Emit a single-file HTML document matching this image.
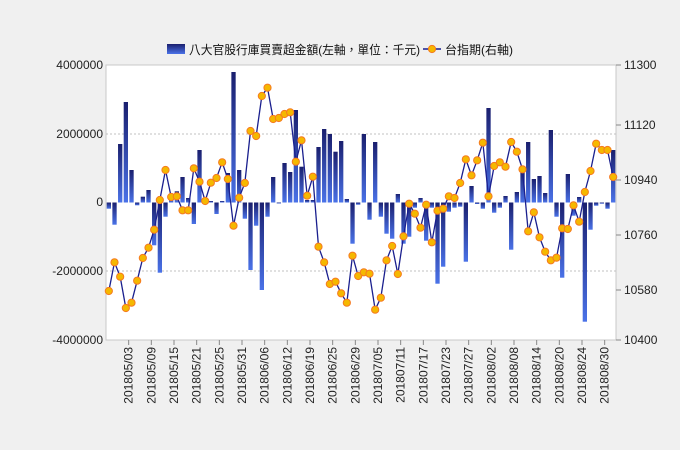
<!DOCTYPE html>
<html><head><meta charset="utf-8"><style>
body{margin:0;background:#f0f0f0;}
svg{display:block;font-family:"Liberation Sans","Noto Sans CJK TC",sans-serif;}
</style></head><body>
<svg id="s" width="680" height="450" viewBox="0 0 680 450">
<defs>
<linearGradient id="gp" x1="0" y1="0" x2="0" y2="1"><stop offset="0" stop-color="#1a1f6e"/><stop offset="1" stop-color="#4a72e8"/></linearGradient>
<linearGradient id="gl" x1="0" y1="0" x2="0" y2="1"><stop offset="0" stop-color="#1a1f6e"/><stop offset="1" stop-color="#4a72e8"/></linearGradient>
</defs>
<rect x="0" y="0" width="680" height="450" fill="#f0f0f0"/>
<rect x="106" y="65" width="510" height="275" fill="#fff" stroke="#c8c8c8"/>
<line x1="106" x2="616" y1="134" y2="134" stroke="#c0c0c0" stroke-dasharray="2,2"/>
<line x1="106" x2="616" y1="271" y2="271" stroke="#c0c0c0" stroke-dasharray="2,2"/>
<g id="bars"></g>
<g id="line"></g>
<g font-size="12" fill="#222" text-anchor="end">
<text x="103" y="69">4000000</text><text x="103" y="138">2000000</text><text x="103" y="206">0</text><text x="103" y="275">-2000000</text><text x="103" y="344">-4000000</text>
</g>
<g font-size="12" fill="#222">
<text x="624" y="69">11300</text><text x="624" y="129">11120</text><text x="624" y="184">10940</text><text x="624" y="239">10760</text><text x="624" y="294">10580</text><text x="624" y="344">10400</text>
</g>
<g stroke="#888"><line x1="616" x2="621" y1="65" y2="65"/><line x1="616" x2="621" y1="125" y2="125"/><line x1="616" x2="621" y1="180" y2="180"/><line x1="616" x2="621" y1="235" y2="235"/><line x1="616" x2="621" y1="290" y2="290"/><line x1="616" x2="621" y1="340" y2="340"/></g>
<g id="xl" font-size="12" fill="#222"></g>
<rect x="167" y="44" width="18" height="10" fill="url(#gp)"/>
<text x="189" y="54" font-size="12" fill="#111" textLength="231" lengthAdjust="spacingAndGlyphs">八大官股行庫買賣超金額(左軸，單位：千元)</text>
<line x1="423" x2="441" y1="49" y2="49" stroke="#1a1f8e" stroke-width="1.5"/>
<circle cx="432" cy="49" r="3.6" fill="#f5b800" stroke="#f57a20"/>
<text x="445" y="54" font-size="12" fill="#111">台指期(右軸)</text>
</svg>
<script>
var B=[208.7,224.7,144,102,170,205.3,196.7,190,245.3,272.7,216.7,196.7,191.3,177,198,224,150,201,201,214,201,173,72,170,218.7,270,225.7,290,216.7,177,203,163,172,110,166.7,200,200,147,129,134,151.7,141,199,243.7,204.7,134,219.7,142,216.7,233.7,238.7,194,243.7,236.7,207.7,198,240.7,207.7,283.7,266.7,211.7,207.7,206.7,261.7,186,204,208.7,108,212.7,207.7,196,249.7,192,171,142,179,176,193,130,216.7,277.7,174,215.7,197,321.7,229.7,205.7,203.7,208.7,150];
var L=[291,262.3,276.7,308,302.7,280.7,258,247.7,229.7,200,170,197,196.3,210.3,210.3,168.3,181.7,201,182.7,178,162.3,179,225.7,197.7,183,131,136,96,87.7,119,118,114,112.3,161.7,140.3,195.7,176.7,246.7,262.3,284,281.7,293.3,302.7,255.7,276,272.3,273.7,309.7,297.7,260.3,246,274,236.3,203.7,213.7,227.7,204.7,242.3,210.7,208.7,196.3,198,183,159.3,175.3,160.3,142.7,196.3,166,162.3,166.7,142,151.7,169.3,231.3,212.3,237.3,251.7,260.3,257.7,228.3,229,205.3,221.7,192,171,143.7,150,150,177];
var w=510/90,z=202.5,g=document.getElementById('bars'),h='',p=[],c='';
B.forEach(function(v,i){var x=106+w*i+0.7,y=Math.min(v,z),hh=Math.abs(v-z);if(hh<1)hh=1;h+='<rect x="'+x.toFixed(2)+'" y="'+y.toFixed(2)+'" width="4.3" height="'+hh.toFixed(2)+'" fill="url(#'+(v<z?'gp':'gl')+')"/>';});
g.innerHTML=h;
L.forEach(function(v,i){var x=106+w*(i+0.5);p.push(x.toFixed(2)+','+v);c+='<circle cx="'+x.toFixed(2)+'" cy="'+v+'" r="3.6" fill="#f5b800" stroke="#f57a20"/>';});
document.getElementById('line').innerHTML='<polyline points="'+p.join(' ')+'" fill="none" stroke="#1a1f8e" stroke-width="1.3"/>'+c;
var d=['05/03','05/09','05/15','05/21','05/25','05/31','06/06','06/12','06/19','06/25','06/29','07/05','07/11','07/17','07/23','07/27','08/02','08/08','08/14','08/20','08/24','08/30'],t='';
d.forEach(function(s,k){var x=106+w*4*(k+1);t+='<line x1="'+x+'" x2="'+x+'" y1="340" y2="345" stroke="#888"/><text transform="translate('+(x+4)+',347) rotate(-90)" text-anchor="end">2018'+s+'</text>';});
document.getElementById('xl').innerHTML=t;
</script>
</body></html>
